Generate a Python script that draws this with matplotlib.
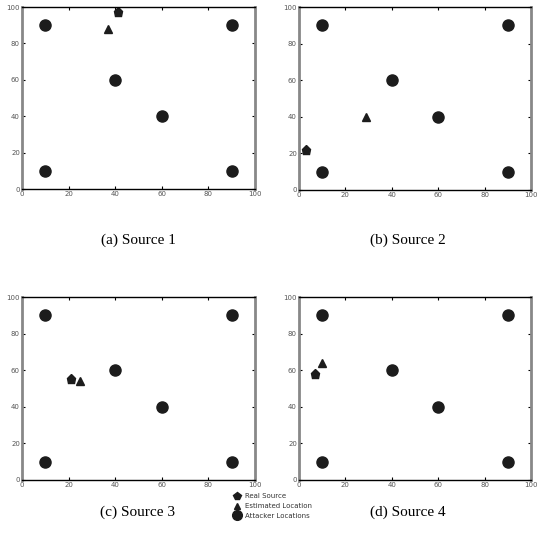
import numpy as np
import matplotlib
matplotlib.use("Agg")
import matplotlib.pyplot as plt
from matplotlib.lines import Line2D

# attacker positions (same on all panels)
attacker_x = [10, 90, 40, 60, 10, 90]
attacker_y = [90, 90, 60, 40, 10, 10]

# real source / estimated location per panel
real_x = [41, 3, 21, 7]
real_y = [97, 22, 55, 58]
est_x = [37, 29, 25, 10]
est_y = [88, 40, 54, 64]

captions = ["(a) Source 1", "(b) Source 2", "(c) Source 3", "(d) Source 4"]
ticks = [0, 20, 40, 60, 80, 100]

W, H = 540, 537
# axes boxes in pixels: left, top, right, bottom
boxes = [
    (22, 7, 255, 189),
    (299, 7, 531, 190),
    (22, 297, 255, 480),
    (299, 297, 531, 480),
]
cap_pos = [(138, 240), (408, 240), (138, 512), (408, 512)]

mark_col = "#1c1c1c"

fig = plt.figure(figsize=(W / 100, H / 100), dpi=100)

for i, (l, t, r, b) in enumerate(boxes):
    ax = fig.add_axes([l / W, 1 - b / H, (r - l) / W, (b - t) / H])
    ax.plot(attacker_x, attacker_y, "o", color=mark_col, ms=8, mec=mark_col)
    ax.plot(real_x[i], real_y[i], "p", color=mark_col, ms=6.5)
    ax.plot(est_x[i], est_y[i], "^", color=mark_col, ms=5.5)
    ax.set_xlim(0, 100)
    ax.set_ylim(0, 100)
    ax.set_xticks(ticks)
    ax.set_yticks(ticks)
    ax.tick_params(direction="in", length=2, width=0.8, labelsize=5,
                   labelcolor="#555555", top=True, right=True, pad=1.5)
    ax.spines["left"].set_color("#888888")
    ax.spines["right"].set_color("#888888")
    ax.spines["left"].set_linewidth(2)
    ax.spines["right"].set_linewidth(2)
    ax.spines["top"].set_linewidth(1)
    ax.spines["bottom"].set_linewidth(1)
    cx, cy = cap_pos[i]
    fig.text(cx / W, 1 - cy / H, captions[i], ha="center", va="center",
             fontsize=11, family="Liberation Serif")

handles = [
    Line2D([], [], ls="none", marker="p", color=mark_col, ms=5.5),
    Line2D([], [], ls="none", marker="^", color=mark_col, ms=5),
    Line2D([], [], ls="none", marker="o", color=mark_col, ms=7),
]
labels = ["Real Source", "Estimated Location", "Attacker Locations"]
fig.legend(handles, labels, loc="center", bbox_to_anchor=(273 / W, 1 - 506 / H),
           frameon=False, fontsize=5, handletextpad=0.8, labelspacing=0.55,
           handlelength=0.8, borderpad=0, labelcolor="#333333")

fig.savefig("out.png", dpi=100)
